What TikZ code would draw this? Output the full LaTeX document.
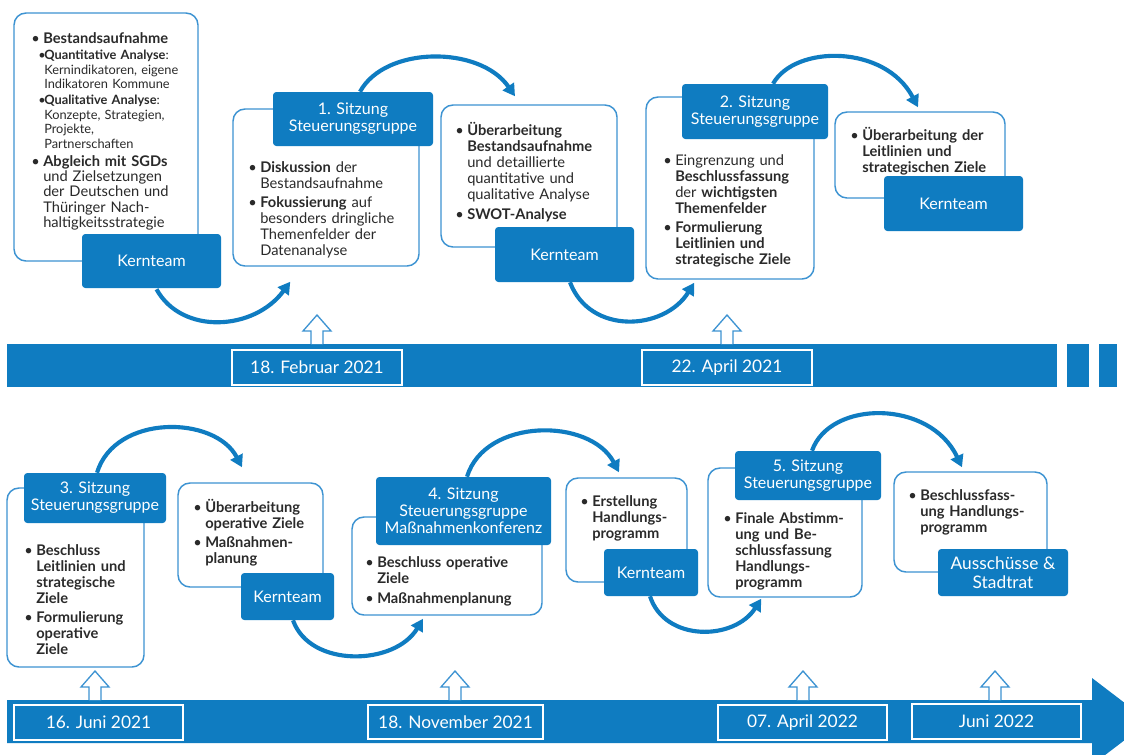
\documentclass[tikz,border=0pt]{standalone}
\usepackage{fontspec}
\setmainfont{Lato}
\usetikzlibrary{arrows.meta,calc}
\definecolor{bblue}{HTML}{0F7CC1}
\definecolor{lblue}{HTML}{3D93D2}
\definecolor{txt}{HTML}{2A2A2A}
\newcommand{\bl}{\makebox[9pt][l]{•}}
\newcommand{\ind}{\hspace*{9pt}}
\newcommand{\sbl}{\makebox[4.5pt][l]{•}}
\newcommand{\sind}{\hspace*{4.5pt}}
\newcommand{\bx}[7]{\node[#6, minimum width={(#4-#2)*0.75pt}, minimum height={(#5-#3)*0.75pt}] (#1) at ({(#2+#4)/2},{(#3+#5)/2}) {#7};}
\newcommand{\uparr}[2]{\draw[hollow] (#1-6,#2) -- (#1-6,#2-13) -- (#1-14,#2-13) -- (#1,#2-29) -- (#1+14,#2-13) -- (#1+6,#2-13) -- (#1+6,#2);}
\tikzset{
 wbox/.style={draw=lblue, line width=1.1pt, fill=white, rounded corners=9pt, inner sep=0pt},
 bbox/.style={fill=bblue, rounded corners=2.5pt, inner sep=0pt, text=white, align=center, font=\fontsize{12}{12.75}\selectfont},
 dbox/.style={draw=white, line width=1.1pt, inner sep=0pt, text=white, font=\fontsize{13}{15}\selectfont},
 body/.style={anchor=base west, inner sep=0pt, align=left, text width=140pt, text=txt, font=\fontsize{11}{12}\selectfont},
 small/.style={body, font=\fontsize{9.6}{10.9}\selectfont},
 flow/.style={draw=bblue, line width=3.1pt, -{Triangle[length=9pt,width=10pt]}},
 hollow/.style={draw=lblue, line width=1pt, fill=white},
}
\begin{document}
\begin{tikzpicture}[x=0.75pt,y=-0.75pt]
\useasboundingbox (0,0) rectangle (1124,754);
\clip (0,0) rectangle (1124,754);
\fill[white] (0,0) rectangle (1124,754);

% timeline bars
\fill[bblue] (7,344) rectangle (1057,387);
\fill[bblue] (1067,344) rectangle (1089,387);
\fill[bblue] (1099,344) rectangle (1117,387);
\fill[bblue] (7,700) -- (1092,700) -- (1092,678) -- (1149,721.5) -- (1092,765) -- (1092,743) -- (7,743) -- cycle;

% hollow up arrows
\uparr{317}{344}
\uparr{727}{344}
\uparr{95}{700}
\uparr{455}{700}
\uparr{803}{700}
\uparr{995}{700}

% date boxes
\bx{d1}{232}{350}{402}{385}{dbox}{18. Februar 2021}
\bx{d2}{642}{350}{812}{385}{dbox}{22. April 2021}
\bx{d3}{14}{705}{183}{740}{dbox}{16. Juni 2021}
\bx{d4}{368}{705}{543}{739}{dbox}{18. November 2021}
\bx{d5}{718}{705}{887}{740}{dbox}{07. April 2022}
\bx{d6}{912}{704}{1081}{739}{dbox}{Juni 2022}

% white boxes top row
\bx{b1}{14}{13}{198}{261}{wbox}{}
\bx{b2}{233}{109}{419}{266}{wbox}{}
\bx{b3}{441}{105}{617}{247}{wbox}{}
\bx{b4}{646}{97}{814}{279}{wbox}{}
\bx{b5}{835}{112}{1005}{198}{wbox}{}
% white boxes bottom row
\bx{b6}{7}{488}{144}{667}{wbox}{}
\bx{b7}{178}{483}{323}{587}{wbox}{}
\bx{b8}{352}{517}{542}{615}{wbox}{}
\bx{b9}{566}{478}{687}{582}{wbox}{}
\bx{b10}{708}{468}{862}{597}{wbox}{}
\bx{b11}{894}{472}{1047}{572}{wbox}{}

% blue boxes
\bx{k1}{82}{234}{221}{288}{bbox}{Kernteam}
\bx{h1}{273}{92}{433}{146}{bbox}{1. Sitzung\\Steuerungsgruppe}
\bx{k2}{495}{227}{634}{282}{bbox}{Kernteam}
\bx{h2}{682}{84}{828}{139}{bbox}{2. Sitzung\\Steuerungsgruppe}
\bx{k3}{884}{176}{1023}{231}{bbox}{Kernteam}
\bx{h3}{24}{473}{166}{523}{bbox}{3. Sitzung\\Steuerungsgruppe}
\bx{k4}{241}{573}{334}{620}{bbox}{Kernteam}
\bx{h4}{376}{477}{551}{545}{bbox}{4. Sitzung\\Steuerungsgruppe\\Maßnahmenkonferenz}
\bx{k5}{604}{549}{698}{596}{bbox}{Kernteam}
\bx{h5}{735}{451}{881}{500}{bbox}{5. Sitzung\\Steuerungsgruppe}
\bx{k6}{938}{549}{1068}{596}{bbox,font=\fontsize{13}{14.25}\selectfont}{Ausschüsse \&\\Stadtrat}

% flow arcs
\draw[flow] ($(k1.south)+(5,1)$) .. controls +(25.5,46) and +(-36,49) .. ($(b2.south west)+(58,15)$);
\draw[flow] ($(h1.north)+(7,0)$) .. controls +(25,-46) and +(-35,-51) .. ($(b3.north)+(-14,-8)$);
\draw[flow] ($(k2.south)+(5.5,0)$) .. controls +(20,53) and +(-30,48) .. ($(b4.south west)+(49,3)$);
\draw[flow] ($(h2.north)+(18,0)$) .. controls +(22,-39) and +(-33,-63) .. ($(b5.north)+(-2,-4)$);
\draw[flow] ($(h3.north)+(2,0)$) .. controls +(18,-59) and +(-27,-52) .. ($(b7.north)+(-8.5,-15)$);
\draw[flow] ($(k4.south)+(5.5,0)$) .. controls +(17,48) and +(-28,47) .. ($(b8.south)+(-24,3)$);
\draw[flow] ($(h4.north)+(3.5,0)$) .. controls +(18,-59) and +(-29,-55) .. ($(b9.north)+(-7.5,-5)$);
\draw[flow] ($(k5.south)+(-1,0)$) .. controls +(15,46) and +(-27,42) .. ($(b10.south west)+(54,1)$);
\draw[flow] ($(h5.north)+(4,0)$) .. controls +(18,-51) and +(-32,-68) .. ($(b11.north)+(-8.5,-4)$);

% texts top row
\node[body] (t1a) at (31,43) {\bl\textbf{Bestandsaufnahme}};
\node[small] (t1b) at (38,59.5) {\sbl\textbf{Quantitative Analyse}:\\\sind Kernindikatoren, eigene\\\sind Indikatoren Kommune};
\node[small] (t1c) at (38,104.5) {\sbl\textbf{Qualitative Analyse}:\\\sind Konzepte, Strategien,\\\sind Projekte,\\\sind Partnerschaften};
\node[body, font=\fontsize{11}{11.5}\selectfont] (t1d) at (31,166) {\bl\textbf{Abgleich mit SGDs}\\\ind und Zielsetzungen\\\ind der Deutschen und\\\ind Thüringer Nach-\\\ind haltigkeitsstrategie};
\node[body] (t2) at (248,172) {\bl\textbf{Diskussion} der\\\ind Bestandsaufnahme\\[2.25pt]\bl\textbf{Fokussierung} auf\\\ind besonders dringliche\\\ind Themenfelder der\\\ind Datenanalyse};
\node[body] (t3) at (455,135) {\bl\textbf{Überarbeitung}\\\ind\textbf{Bestandsaufnahme}\\\ind und detaillierte\\\ind quantitative und\\\ind qualitative Analyse\\[3pt]\bl\textbf{SWOT-Analyse}};
\node[body] (t4) at (663,165) {\bl Eingrenzung und\\\ind\textbf{Beschlussfassung}\\\ind der \textbf{wichtigsten}\\\ind\textbf{Themenfelder}\\[2.25pt]\bl\textbf{Formulierung}\\\ind\textbf{Leitlinien und}\\\ind\textbf{strategische Ziele}};
\node[body] (t5) at (850,140) {\bl\textbf{Überarbeitung der}\\\ind\textbf{Leitlinien und}\\\ind\textbf{strategischen Ziele}};

% texts bottom row
\node[body] (t6) at (24,555) {\bl\textbf{Beschluss}\\\ind\textbf{Leitlinien und}\\\ind\textbf{strategische}\\\ind\textbf{Ziele}\\[2.25pt]\bl\textbf{Formulierung}\\\ind\textbf{operative}\\\ind\textbf{Ziele}};
\node[body] (t7) at (193,512) {\bl\textbf{Überarbeitung}\\\ind\textbf{operative Ziele}\\[2.5pt]\bl\textbf{Maßnahmen-}\\\ind\textbf{planung}};
\node[body] (t8) at (365,567) {\bl\textbf{Beschluss operative}\\\ind\textbf{Ziele}\\[3pt]\bl\textbf{Maßnahmenplanung}};
\node[body] (t9) at (580,506) {\bl\textbf{Erstellung}\\\ind\textbf{Handlungs-}\\\ind\textbf{programm}};
\node[body] (t10) at (723,523) {\bl\textbf{Finale Abstimm-}\\\ind\textbf{ung und Be-}\\\ind\textbf{schlussfassung}\\\ind\textbf{Handlungs-}\\\ind\textbf{programm}};
\node[body] (t11) at (908,500) {\bl\textbf{Beschlussfass-}\\\ind\textbf{ung Handlungs-}\\\ind\textbf{programm}};
\end{tikzpicture}
\end{document}
